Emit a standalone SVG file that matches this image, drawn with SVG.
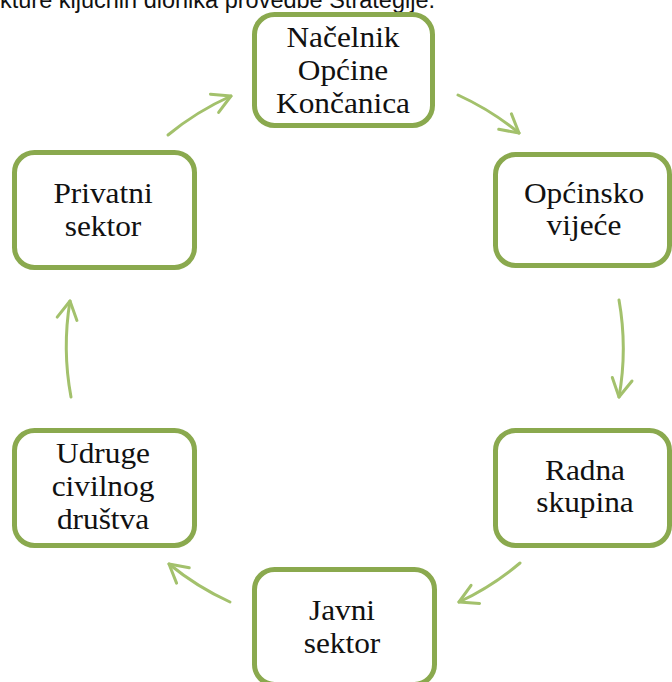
<svg xmlns="http://www.w3.org/2000/svg" width="672" height="682" viewBox="0 0 672 682">
<style>
.box{fill:#ffffff;stroke:#8aa94e;stroke-width:5}
.lbl{font-family:"Liberation Serif","Times New Roman",serif;font-size:28.5px;fill:#111111;text-anchor:middle}
.arc{fill:none;stroke:#a3c16c;stroke-width:3;stroke-linecap:round}
.cap{font-family:"Liberation Sans",Arial,sans-serif;font-size:23.5px;fill:#111111}
</style>
<defs>
<marker id="ah" markerUnits="userSpaceOnUse" markerWidth="30" markerHeight="30" refX="0" refY="0" viewBox="-22 -15 26 30" orient="auto" overflow="visible">
<path d="M-18,-10 L0,0 L-18,10" fill="none" stroke="#a3c16c" stroke-width="3" stroke-linecap="round" stroke-linejoin="round"/>
</marker>
</defs>
<rect width="672" height="682" fill="#ffffff"/>
<text class="cap" x="0" y="7.5">kture ključnih dionika provedbe Strategije.</text>
<g id="connectors">
<path class="arc" d="M168,135 A277,277 0 0 1 231,96" marker-end="url(#ah)"/>
<path class="arc" d="M458,95 A277,277 0 0 1 519,133" marker-end="url(#ah)"/>
<path class="arc" d="M619,300 A277,277 0 0 1 619,397" marker-end="url(#ah)"/>
<path class="arc" d="M520,563 A277,277 0 0 1 459,602" marker-end="url(#ah)"/>
<path class="arc" d="M230,602 A277,277 0 0 1 169,564" marker-end="url(#ah)"/>
<path class="arc" d="M71,397 A277,277 0 0 1 70,301" marker-end="url(#ah)"/>
</g>
<g id="n1">
<rect class="box" x="254.5" y="14.5" width="178" height="111" rx="20"/>
<g transform="translate(343,0) scale(1.1,1)">
<text class="lbl" x="0" y="47">Načelnik</text>
<text class="lbl" x="0" y="80">Općine</text>
<text class="lbl" x="0" y="113">Končanica</text>
</g>
</g>
<g id="n2">
<rect class="box" x="495.5" y="154.5" width="174" height="111" rx="20"/>
<g transform="translate(584,0) scale(1.1,1)">
<text class="lbl" x="0" y="203">Općinsko</text>
<text class="lbl" x="0" y="235">vijeće</text>
</g>
</g>
<g id="n3">
<rect class="box" x="495.5" y="430.5" width="174" height="115" rx="20"/>
<g transform="translate(585,0) scale(1.1,1)">
<text class="lbl" x="0" y="480">Radna</text>
<text class="lbl" x="0" y="512">skupina</text>
</g>
</g>
<g id="n4">
<rect class="box" x="254.5" y="569.5" width="180" height="115" rx="20"/>
<g transform="translate(342,0) scale(1.1,1)">
<text class="lbl" x="0" y="620">Javni</text>
<text class="lbl" x="0" y="653">sektor</text>
</g>
</g>
<g id="n5">
<rect class="box" x="14.5" y="430.5" width="180" height="115" rx="20"/>
<g transform="translate(103,0) scale(1.1,1)">
<text class="lbl" x="0" y="463">Udruge</text>
<text class="lbl" x="0" y="496">civilnog</text>
<text class="lbl" x="0" y="529">društva</text>
</g>
</g>
<g id="n6">
<rect class="box" x="14.5" y="152.5" width="180" height="115" rx="20"/>
<g transform="translate(103,0) scale(1.1,1)">
<text class="lbl" x="0" y="203">Privatni</text>
<text class="lbl" x="0" y="236">sektor</text>
</g>
</g>
</svg>
